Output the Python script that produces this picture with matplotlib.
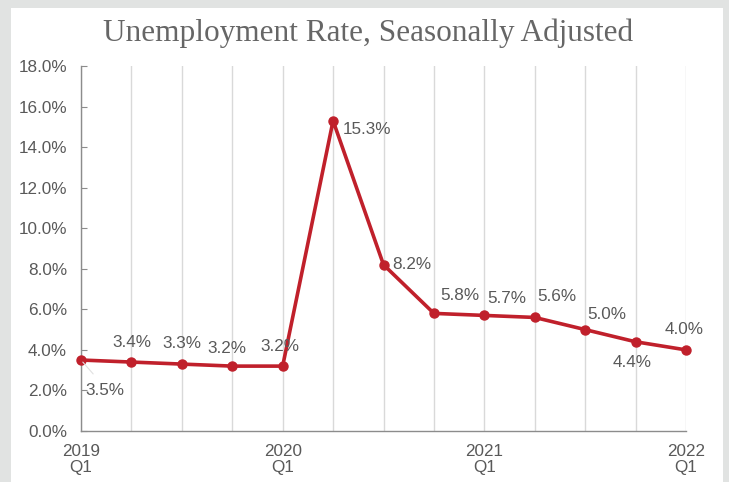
import matplotlib
matplotlib.use("Agg")
import matplotlib.pyplot as plt
from matplotlib.patches import Rectangle

# Quarterly unemployment rate, 2019 Q1 - 2022 Q1
quarters = ["2019 Q1", "2019 Q2", "2019 Q3", "2019 Q4",
            "2020 Q1", "2020 Q2", "2020 Q3", "2020 Q4",
            "2021 Q1", "2021 Q2", "2021 Q3", "2021 Q4",
            "2022 Q1"]
rates = [3.5, 3.4, 3.3, 3.2, 3.2, 15.3, 8.2, 5.8, 5.7, 5.6, 5.0, 4.4, 4.0]
year_ticks = [0, 4, 8, 12]
year_labels = ["2019\nQ1", "2020\nQ1", "2021\nQ1", "2022\nQ1"]
y_ticks = [0, 2, 4, 6, 8, 10, 12, 14, 16, 18]

# label offsets (pixels) relative to each point
label_offsets = [(24, -30), (0, 20), (0, 21), (-5, 18), (-3, 20), (34, -9),
                 (28, 0), (26, 18), (22, 17), (22, 21), (22, 15), (-3, -21), (-2, 20)]

W, H = 729, 482
fig = plt.figure(figsize=(W / 100, H / 100), dpi=100, facecolor="#e1e3e2")
fig.patches.append(Rectangle((11 / W, 0), (723 - 11) / W, (H - 8) / H,
                             transform=fig.transFigure, facecolor="white",
                             edgecolor="none", zorder=-10))

ax = fig.add_axes([81 / W, (H - 431) / H, (686 - 81) / W, (431 - 66) / H])
ax.set_facecolor("none")
ax.set_zorder(5)

line_color = "#c0202b"
text_color = "#595959"
axis_color = "#8c8c8c"
fs = 12.3

x = list(range(len(rates)))
for xi in x:
    ax.axvline(xi, color="#d9d9d9", lw=1.0, zorder=1)

ax.plot(x, rates, color=line_color, lw=2.6, marker="o", ms=6.5,
        clip_on=False, zorder=3, solid_joinstyle="round")

for xi, v, (dx, dy) in zip(x, rates, label_offsets):
    ax.annotate(f"{v:.1f}%", (xi, v), xytext=(dx, dy), textcoords="offset pixels",
                ha="center", va="center", fontsize=fs, color=text_color,
                family="Liberation Sans", zorder=4)

# faint leader line for the first label
ax.annotate("", (0, rates[0]), xytext=(14, -16), textcoords="offset pixels",
            arrowprops=dict(arrowstyle="-", color="#e0e0e0", lw=0.8))

ax.set_xlim(0, 12)
ax.set_ylim(0, 18)
ax.set_xticks(year_ticks)
ax.set_xticklabels(year_labels)
ax.set_yticks(y_ticks)
ax.set_yticklabels([f"{t:.1f}%" for t in y_ticks])

for side in ["top", "right"]:
    ax.spines[side].set_visible(False)
for side in ["left", "bottom"]:
    ax.spines[side].set_color(axis_color)
    ax.spines[side].set_linewidth(1.0)

ax.tick_params(axis="y", direction="in", length=4, color=axis_color,
               labelsize=fs, labelcolor=text_color, pad=10)
ax.tick_params(axis="x", length=0, labelsize=fs, labelcolor=text_color, pad=9)
for lbl in ax.get_xticklabels() + ax.get_yticklabels():
    lbl.set_family("Liberation Sans")
    lbl.set_linespacing(1.1)

fig.text(368 / W, 1 - 33 / H, "Unemployment Rate, Seasonally Adjusted",
         ha="center", va="center", fontsize=22.5, color="#666666",
         family="Liberation Serif")

fig.savefig("out.png", dpi=100, facecolor=fig.get_facecolor())
